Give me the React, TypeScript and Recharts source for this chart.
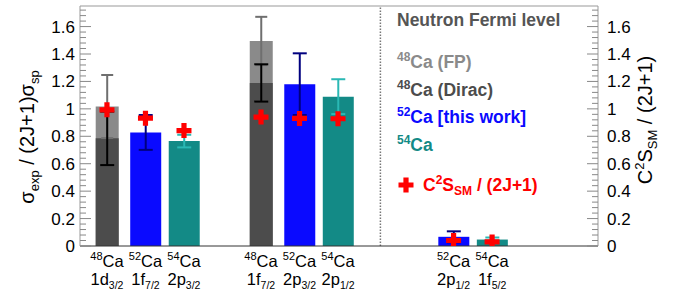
import { Bar, ComposedChart, ErrorBar, ReferenceLine, Scatter, XAxis, YAxis } from "recharts";

const FONT = "'Liberation Sans', Arial, Helvetica, sans-serif";

// bar positions are slot indices along the x axis
const ca48Slots = [0, 4];
const ca48FP = [1.017, 1.495];
const ca48FPErr = [0.23, 0.176];
const ca48Dirac = [0.785, 1.189];
const ca48DiracErr = [0.195, 0.136];

const ca52Slots = [1, 5, 9];
const ca52Values = [0.828, 1.18, 0.067];
const ca52Err = [0.127, 0.225, 0.04];

const ca54Slots = [2, 6, 10];
const ca54Values = [0.765, 1.089, 0.047];
const ca54Err = [0.046, 0.127, 0.015];

const smSlots = [0, 1, 2, 4, 5, 6, 9, 10];
const smValues = [0.993, 0.932, 0.842, 0.94, 0.93, 0.928, 0.04, 0.03];

const labelSlots = [0, 1, 2, 4, 5, 6, 9, 10];
const isotopes = ["48", "52", "54", "48", "52", "54", "52", "54"];
const orbitals = ["1d", "1f", "2p", "1f", "2p", "2p", "2p", "1f"];
const spins = ["3/2", "7/2", "3/2", "7/2", "3/2", "1/2", "1/2", "5/2"];

const yTickLabels = ["0", "0.2", "0.4", "0.6", "0.8", "1", "1.2", "1.4", "1.6"];
const Y_MAX = 1.75;
const X_DOMAIN: [number, number] = [-0.7, 12.75];
const SEPARATOR_X = 7.1;

// one row per labelled slot, the bars pick their own keys
const pick = (slot: number, slots: number[], vals: number[]) => {
  const i = slots.indexOf(slot);
  return i < 0 ? undefined : vals[i];
};
const chartData = labelSlots.map((x) => ({
  x,
  fp: pick(x, ca48Slots, ca48FP),
  fpErr: pick(x, ca48Slots, ca48FPErr),
  dirac: pick(x, ca48Slots, ca48Dirac),
  diracErr: pick(x, ca48Slots, ca48DiracErr),
  c52: pick(x, ca52Slots, ca52Values),
  c52Err: pick(x, ca52Slots, ca52Err),
  c54: pick(x, ca54Slots, ca54Values),
  c54Err: pick(x, ca54Slots, ca54Err),
}));
const smData = smSlots.map((x, i) => ({ x, sm: smValues[i] }));

// major every 0.2, minor every 0.04
const yTicks: number[] = [];
for (let i = 0; i * 0.04 <= Y_MAX + 1e-9; i++) yTicks.push(Math.round(i * 4) / 100);

function tickLabel(v: number) {
  const k = Math.round(v * 100);
  return k % 20 === 0 ? yTickLabels[k / 20] : null;
}

function LeftTick({ x, y, payload }: any) {
  const label = tickLabel(payload.value);
  return (
    <g>
      <line x1={x} x2={x + (label ? 11 : 6)} y1={y} y2={y} stroke="#888" />
      {label && (
        <text x={x - 5} y={y + 6} textAnchor="end" fontSize={17} fontFamily={FONT} fill="#000">
          {label}
        </text>
      )}
    </g>
  );
}

function RightTick({ x, y, payload }: any) {
  const label = tickLabel(payload.value);
  return (
    <g>
      <line x1={x} x2={x - (label ? 11 : 6)} y1={y} y2={y} stroke="#888" />
      {label && (
        <text x={x + 9} y={y + 6} textAnchor="start" fontSize={17} fontFamily={FONT} fill="#000">
          {label}
        </text>
      )}
    </g>
  );
}

function BottomTick({ x, y, payload }: any) {
  const i = labelSlots.indexOf(payload.value);
  if (i < 0) return null;
  return (
    <g fontFamily={FONT} fill="#000">
      <text x={x} y={y + 21} textAnchor="middle" fontSize={16.5}>
        <tspan fontSize={11} dy={-7}>{isotopes[i]}</tspan>
        <tspan dy={7}>Ca</tspan>
      </text>
      <text x={x} y={y + 39} textAnchor="middle" fontSize={16.5}>
        {orbitals[i]}
        <tspan fontSize={10.5} dy={4}>{spins[i]}</tspan>
      </text>
    </g>
  );
}

function Cross({ cx, cy }: any) {
  const h = 7.5;
  const a = 2.6;
  const d = `M${cx - a},${cy - h}H${cx + a}V${cy - a}H${cx + h}V${cy + a}H${cx + a}V${cy + h}H${cx - a}V${cy + a}H${cx - h}V${cy - a}H${cx - a}Z`;
  return <path d={d} fill="#ff0000" />;
}

const hiddenX = (id: string) => (
  <XAxis xAxisId={id} dataKey="x" type="number" domain={X_DOMAIN} allowDataOverflow hide height={0} />
);

export default function App() {
  return (
    <div style={{ position: "absolute", left: 0, top: 0, width: 678, height: 302, background: "#fff" }}>
      <ComposedChart width={678} height={302} data={chartData} margin={{ top: 6, right: 0, bottom: 0, left: 0 }}>
        <XAxis
          xAxisId="main"
          dataKey="x"
          type="number"
          domain={X_DOMAIN}
          allowDataOverflow
          ticks={labelSlots}
          interval={0}
          height={56}
          tickLine={false}
          tickSize={0}
          tickMargin={0}
          axisLine={{ stroke: "#333" }}
          tick={<BottomTick />}
        />
        {hiddenX("fp")}
        {hiddenX("dirac")}
        {hiddenX("c52")}
        {hiddenX("c54")}
        <YAxis
          yAxisId="left"
          type="number"
          domain={[0, Y_MAX]}
          allowDataOverflow
          ticks={yTicks}
          interval={0}
          width={80}
          tickLine={false}
          tickSize={0}
          tickMargin={0}
          axisLine={{ stroke: "#999" }}
          tick={<LeftTick />}
        />
        <YAxis
          yAxisId="right"
          orientation="right"
          type="number"
          domain={[0, Y_MAX]}
          allowDataOverflow
          ticks={yTicks}
          interval={0}
          width={80}
          tickLine={false}
          tickSize={0}
          tickMargin={0}
          axisLine={{ stroke: "#999" }}
          tick={<RightTick />}
        />
        {/* top edge of the frame */}
        <ReferenceLine xAxisId="main" yAxisId="left" y={Y_MAX} stroke="#999" />
        <ReferenceLine xAxisId="main" yAxisId="left" x={SEPARATOR_X} stroke="#777" strokeWidth={1.5} strokeDasharray="1.5 1.5" />
        <Bar xAxisId="fp" yAxisId="left" dataKey="fp" barSize={23} fill="#8a8a8a" isAnimationActive={false}>
          <ErrorBar dataKey="fpErr" direction="y" width={6} stroke="#6f6f6f" strokeWidth={2} />
        </Bar>
        <Bar xAxisId="dirac" yAxisId="left" dataKey="dirac" barSize={23} fill="#4c4c4c" isAnimationActive={false}>
          <ErrorBar dataKey="diracErr" direction="y" width={7} stroke="#000" strokeWidth={2} />
        </Bar>
        <Bar xAxisId="c52" yAxisId="left" dataKey="c52" barSize={31} fill="#0a0aff" isAnimationActive={false}>
          <ErrorBar dataKey="c52Err" direction="y" width={7} stroke="#00007f" strokeWidth={2} />
        </Bar>
        <Bar xAxisId="c54" yAxisId="left" dataKey="c54" barSize={31} fill="#138a86" isAnimationActive={false}>
          <ErrorBar dataKey="c54Err" direction="y" width={7} stroke="#2ab8b4" strokeWidth={2} />
        </Bar>
        <Scatter data={smData} xAxisId="main" yAxisId="left" dataKey="sm" shape={<Cross />} isAnimationActive={false} />
      </ComposedChart>

      <svg width={678} height={302} style={{ position: "absolute", left: 0, top: 0, pointerEvents: "none" }} fontFamily={FONT}>
        <text transform="translate(34,137) rotate(-90)" textAnchor="middle" fontSize={20} fill="#000">
          σ<tspan fontSize={13} dy={5}>exp</tspan>
          <tspan dy={-5}> / (2J+1)σ</tspan>
          <tspan fontSize={13} dy={5}>sp</tspan>
        </text>
        <text transform="translate(652,120) rotate(-90)" textAnchor="middle" fontSize={20} fill="#000">
          C<tspan fontSize={13} dy={-8}>2</tspan>
          <tspan dy={8}>S</tspan>
          <tspan fontSize={13} dy={5}>SM</tspan>
          <tspan dy={-5}> / (2J+1)</tspan>
        </text>

        <g fontSize={17.5} fontWeight="bold">
          <text x={397} y={26} fill="#555">Neutron Fermi level</text>
          <text x={397} y={68} fill="#8a8a8a">
            <tspan fontSize={12} dy={-7}>48</tspan>
            <tspan dy={7}>Ca (FP)</tspan>
          </text>
          <text x={397} y={96} fill="#4c4c4c">
            <tspan fontSize={12} dy={-7}>48</tspan>
            <tspan dy={7}>Ca (Dirac)</tspan>
          </text>
          <text x={397} y={123} fill="#0a0aff">
            <tspan fontSize={12} dy={-7}>52</tspan>
            <tspan dy={7}>Ca [this work]</tspan>
          </text>
          <text x={397} y={151} fill="#138a86">
            <tspan fontSize={12} dy={-7}>54</tspan>
            <tspan dy={7}>Ca</tspan>
          </text>
          <Cross cx={406} cy={185} />
          <text x={423} y={191} fill="#ff0000">
            C<tspan fontSize={12} dy={-7}>2</tspan>
            <tspan dy={7}>S</tspan>
            <tspan fontSize={12} dy={4}>SM</tspan>
            <tspan dy={-4}> / (2J+1)</tspan>
          </text>
        </g>
      </svg>
    </div>
  );
}
